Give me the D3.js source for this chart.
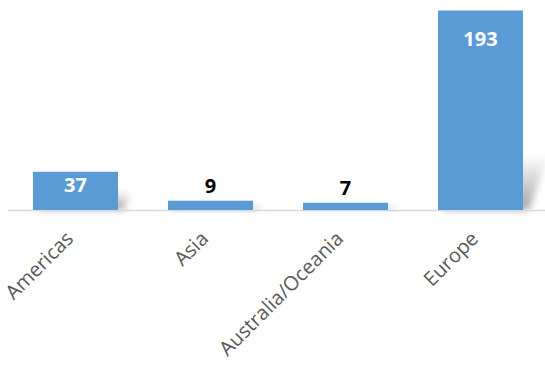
<!DOCTYPE html>
<html>
<head>
<meta charset="utf-8">
<script src="https://cdn.jsdelivr.net/npm/d3@7"></script>
<style>
  html, body { margin: 0; padding: 0; background: #fff; }
  svg { display: block; }
</style>
</head>
<body>
<script>
// Count per region
const regions = ["Americas", "Asia", "Australia/Oceania", "Europe"];
const counts = [37, 9, 7, 193];

const W = 545, H = 367;
const baseY = 210;

const svg = d3.select("body").append("svg")
  .attr("width", W).attr("height", H);

const defs = svg.append("defs");
const blur = defs.append("filter").attr("id", "soft")
  .attr("x", "-50%").attr("y", "-50%").attr("width", "200%").attr("height", "200%");
blur.append("feGaussianBlur").attr("stdDeviation", 3.5);

const grad = defs.append("linearGradient").attr("id", "shadeFade")
  .attr("x1", 0).attr("y1", 0).attr("x2", 0).attr("y2", 1);
grad.append("stop").attr("offset", "0%").attr("stop-color", "#000").attr("stop-opacity", 0);
grad.append("stop").attr("offset", "100%").attr("stop-color", "#000").attr("stop-opacity", 0.36);

const x = d3.scaleBand()
  .domain(regions)
  .range([8, 548])
  .paddingInner(0.37)
  .paddingOuter(0.185);

const y = d3.scaleLinear()
  .domain([0, 193])
  .range([baseY, 10.5]);

const data = regions.map((r, i) => ({ region: r, value: counts[i] }));

// Perspective shadows behind the bars
svg.append("g").selectAll("path")
  .data(data)
  .join("path")
  .attr("d", d => {
    const x0 = x(d.region), x1 = x0 + x.bandwidth();
    const h = baseY - y(d.value);
    const sh = Math.min(h * 0.5, 55);
    const skew = sh * 0.35;
    return `M${x0 + 4},${baseY} L${x1 + 6},${baseY} L${x1 + 6 + skew},${baseY - sh} L${x0 + 4 + skew},${baseY - sh} Z`;
  })
  .attr("fill", "url(#shadeFade)")
  .attr("filter", "url(#soft)");

// Category axis line
svg.append("line")
  .attr("x1", 8).attr("x2", W)
  .attr("y1", baseY + 0.5).attr("y2", baseY + 0.5)
  .attr("stroke", "#d9d9d9").attr("stroke-width", 1.5);

// Bars
svg.append("g").selectAll("rect")
  .data(data)
  .join("rect")
  .attr("x", d => x(d.region))
  .attr("width", x.bandwidth())
  .attr("y", d => y(d.value))
  .attr("height", d => baseY - y(d.value))
  .attr("fill", "#5b9bd5");

// Value labels: inside the bar when it is tall enough, otherwise above it
svg.append("g").selectAll("text")
  .data(data)
  .join("text")
  .attr("x", d => x(d.region) + x.bandwidth() / 2)
  .attr("y", d => d.value >= 20
    ? Math.min(y(d.value) + 35, baseY - 18)
    : y(d.value) - 8)
  .attr("text-anchor", "middle")
  .attr("font-family", "'Open Sans', 'Liberation Sans', sans-serif")
  .attr("font-weight", "bold")
  .attr("font-size", 20)
  .attr("fill", d => d.value >= 20 ? "#ffffff" : "#000000")
  .text(d => d.value);

// Rotated category labels
const axis = d3.axisBottom(x).tickSize(0).tickPadding(0);
const ag = svg.append("g")
  .attr("transform", `translate(0,${baseY})`)
  .call(axis);
ag.select(".domain").remove();
ag.selectAll(".tick text")
  .attr("font-family", "'Open Sans', 'Liberation Sans', sans-serif")
  .attr("font-size", 20)
  .attr("fill", "#595959")
  .attr("text-anchor", "end")
  .attr("dy", null)
  .attr("y", 0)
  .attr("transform", "translate(-1,30) rotate(-45)");
</script>
</body>
</html>
